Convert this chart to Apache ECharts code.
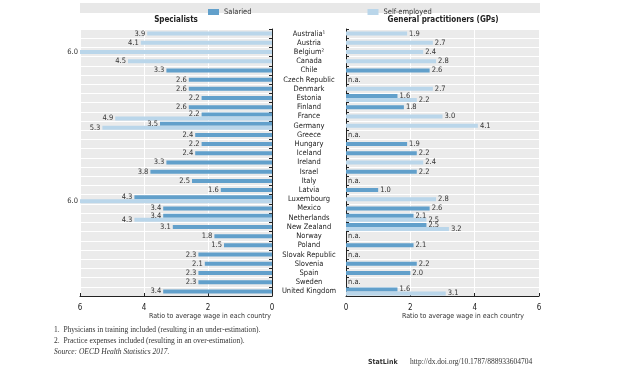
<!DOCTYPE html>
<html><head><meta charset="utf-8">
<script src="https://cdn.jsdelivr.net/npm/echarts@6/dist/echarts.min.js"></script>
<style>html,body{margin:0;padding:0;background:#fff}#c{width:620px;height:368px}</style>
</head><body><div id="c"></div>
<script>
const countries = ['Australia¹','Austria','Belgium²','Canada','Chile','Czech Republic','Denmark','Estonia','Finland','France','Germany','Greece','Hungary','Iceland','Ireland','Israel','Italy','Latvia','Luxembourg','Mexico','Netherlands','New Zealand','Norway','Poland','Slovak Republic','Slovenia','Spain','Sweden','United Kingdom'];
const specSalaried = [null,null,null,null,3.3,2.6,2.6,2.2,2.6,2.2,3.5,2.4,2.2,2.4,3.3,3.8,2.5,1.6,4.3,3.4,3.4,3.1,1.8,1.5,2.3,2.1,2.3,2.3,3.4];
const specSelf     = [3.9,4.1,6.0,4.5,null,null,null,null,null,4.9,5.3,null,null,null,null,null,null,null,6.0,null,4.3,null,null,null,null,null,null,null,null];
const gpSalaried   = [null,null,null,null,2.6,null,null,1.6,1.8,null,null,null,1.9,2.2,null,2.2,null,1.0,null,2.6,2.1,2.5,null,2.1,null,2.2,2.0,null,1.6];
const gpSelf       = [1.9,2.7,2.4,2.8,null,null,2.7,2.2,null,3.0,4.1,null,null,null,2.4,null,null,null,2.8,null,2.5,3.2,null,null,null,null,null,null,3.1];
const xTicks = [0,2,4,6];

const DARK = '#62a0cb', LIGHT = '#bad6ea', BG = '#ebebeb';
const NARROW = "'Liberation Sans Narrow','DejaVu Sans Condensed',sans-serif";

function isPair(a,b,i){ return a[i]!=null && b[i]!=null; }
function pairOf(arr, other){ return arr.map((v,i)=> isPair(arr,other,i) ? v : '-'); }
function singleOf(arr, other){ return arr.map((v,i)=> (v!=null && other[i]==null) ? v : '-'); }

const chart = echarts.init(document.getElementById('c'), null, {renderer:'canvas'});

function yAxis(grid, pos, showLabels, visible){
  return {
    type:'category', gridIndex:grid, data:countries, inverse:true, position:pos, show:visible,
    axisLine:{show:true, lineStyle:{color:'#222', width:1}},
    axisTick:{show:true, inside:true, length:3, interval:0, lineStyle:{color:'#222'}},
    axisLabel:{show:showLabels, interval:0, align:'center', margin:37, fontSize:7.5, color:'#222', fontFamily:NARROW},
    splitLine:{show:true, interval:0, lineStyle:{color:'#fff', width:1}}
  };
}
function xAxis(grid, inv){
  return {
    type:'value', gridIndex:grid, min:0, max:6, interval:2, inverse:inv,
    axisLine:{show:true, lineStyle:{color:'#222'}},
    axisTick:{show:true, inside:true, length:3, lineStyle:{color:'#222'}},
    axisLabel:{fontSize:8, color:'#222', fontFamily:NARROW, margin:8, formatter:v=>xTicks.includes(v)?String(v):''},
    splitLine:{show:true, lineStyle:{color:'#fff', width:1}}
  };
}
function barSeries(name, data, xi, yi, color, pos, gap){
  return {
    type:'bar', name:name, data:data, xAxisIndex:xi, yAxisIndex:yi, barWidth:4, barGap:gap,
    itemStyle:{color:color}, z:3,
    label:{show:true, position:pos, distance:2, fontSize:7.5, color:'#333', fontFamily:NARROW,
      formatter:p=>Number(p.value).toFixed(1)}
  };
}
const naData = gpSalaried.map((v,i)=> (v==null && gpSelf[i]==null) ? 0 : '-');

const option = {
  animation:false,
  backgroundColor:'#fff',
  grid:[
    {left:80, width:192, top:29, height:267, show:true, backgroundColor:BG, borderWidth:0},
    {left:346, width:193, top:29, height:267, show:true, backgroundColor:BG, borderWidth:0}
  ],
  legend:{data:['Salaried','Self-employed'], top:3, left:203, itemWidth:11, itemHeight:6, itemGap:116,
    icon:'rect', textStyle:{fontSize:7.5, color:'#333', fontFamily:NARROW}},
  xAxis:[xAxis(0,true), xAxis(1,false)],
  yAxis:[yAxis(0,'right',false,true), yAxis(0,'right',false,false), yAxis(1,'left',true,true), yAxis(1,'left',false,false)],
  series:[
    barSeries('Salaried', pairOf(specSalaried,specSelf), 0, 0, DARK, 'left', '0%'),
    barSeries('Self-employed', pairOf(specSelf,specSalaried), 0, 0, LIGHT, 'left', '0%'),
    barSeries('Salaried', singleOf(specSalaried,specSelf), 0, 1, DARK, 'left', '-100%'),
    barSeries('Self-employed', singleOf(specSelf,specSalaried), 0, 1, LIGHT, 'left', '-100%'),
    barSeries('Salaried', pairOf(gpSalaried,gpSelf), 1, 2, DARK, 'right', '0%'),
    barSeries('Self-employed', pairOf(gpSelf,gpSalaried), 1, 2, LIGHT, 'right', '0%'),
    barSeries('Salaried', singleOf(gpSalaried,gpSelf), 1, 3, DARK, 'right', '-100%'),
    barSeries('Self-employed', singleOf(gpSelf,gpSalaried), 1, 3, LIGHT, 'right', '-100%'),
    {type:'bar', name:'na', data:naData, xAxisIndex:1, yAxisIndex:3, barWidth:4, barGap:'-100%',
     itemStyle:{color:'rgba(0,0,0,0)'},
     label:{show:true, position:'right', distance:2, fontSize:7.5, color:'#333', fontFamily:NARROW, formatter:'n.a.'}}
  ],
  graphic:[
    {type:'rect', z:-10, shape:{x:80, y:3, width:460, height:10}, style:{fill:'#e8e8e8'}},
    {type:'text', x:176, y:20, style:{text:'Specialists', textAlign:'center', textVerticalAlign:'middle', font:"bold 8px "+NARROW, fill:'#222'}},
    {type:'text', x:443, y:20, style:{text:'General practitioners (GPs)', textAlign:'center', textVerticalAlign:'middle', font:"bold 8px "+NARROW, fill:'#222'}},
    {type:'text', x:210, y:316, style:{text:'Ratio to average wage in each country', textAlign:'center', textVerticalAlign:'middle', font:"7px "+NARROW, fill:'#333'}},
    {type:'text', x:463, y:316, style:{text:'Ratio to average wage in each country', textAlign:'center', textVerticalAlign:'middle', font:"7px "+NARROW, fill:'#333'}},
    {type:'text', x:54, y:330, style:{text:'1.  Physicians in training included (resulting in an under-estimation).', textVerticalAlign:'middle', font:"7.5px 'Liberation Serif',serif", fill:'#333'}},
    {type:'text', x:54, y:341, style:{text:'2.  Practice expenses included (resulting in an over-estimation).', textVerticalAlign:'middle', font:"7.5px 'Liberation Serif',serif", fill:'#333'}},
    {type:'text', x:54, y:352, style:{text:'Source: OECD Health Statistics 2017.', textVerticalAlign:'middle', font:"italic 7.5px 'Liberation Serif',serif", fill:'#333'}},
    {type:'text', x:368, y:362, style:{text:'StatLink', textVerticalAlign:'middle', font:"bold 7px "+NARROW, fill:'#333'}},
    {type:'text', x:410, y:362, style:{text:'http://dx.doi.org/10.1787/888933604704', textVerticalAlign:'middle', font:"7.5px 'Liberation Serif',serif", fill:'#333'}}
  ]
};
chart.setOption(option);
</script></body></html>
